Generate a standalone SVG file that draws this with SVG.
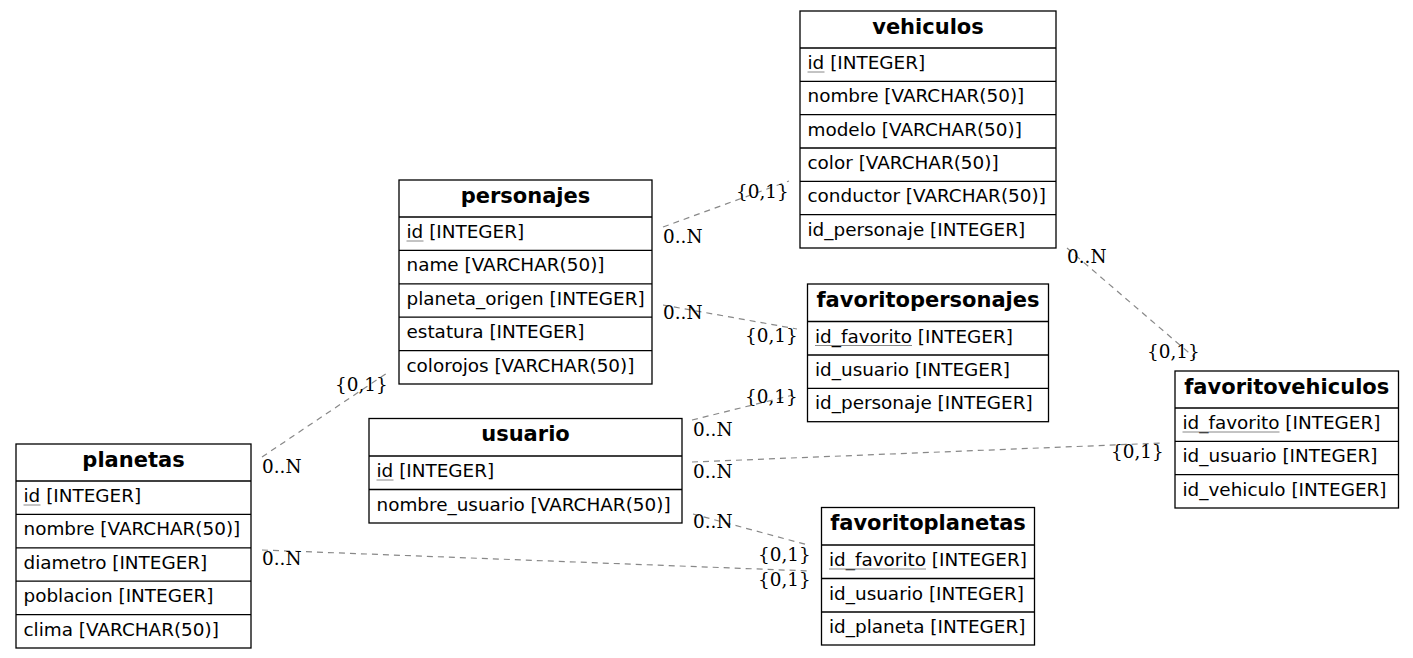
<svg xmlns="http://www.w3.org/2000/svg" width="1413" height="658" viewBox="0 0 1413 658">
<style>
.box{fill:#fff;stroke:#000;stroke-width:1.3}
.sep{stroke:#000;stroke-width:1.3}
.ttl{font-family:"DejaVu Sans",sans-serif;font-size:21px;font-weight:bold;fill:#000;text-anchor:middle}
.fld{font-family:"DejaVu Sans",sans-serif;font-size:18.4px;fill:#000}
.ul{stroke:#888;stroke-width:1}
.edge{fill:none;stroke:#888;stroke-width:1.2;stroke-dasharray:6,5}
.lbl{font-family:"DejaVu Serif",serif;font-size:18.4px;fill:#000}
</style>
<rect width="1413" height="658" fill="#fff"/>
<g id="connectors">
<line class="edge" x1="663" y1="227" x2="789" y2="181"/>
<line class="edge" x1="663" y1="305" x2="797" y2="329"/>
<line class="edge" x1="262" y1="457" x2="387" y2="373"/>
<line class="edge" x1="692" y1="420" x2="793" y2="395"/>
<line class="edge" x1="692" y1="462" x2="1163" y2="443"/>
<line class="edge" x1="693" y1="514" x2="808" y2="545"/>
<line class="edge" x1="262" y1="550" x2="810" y2="571"/>
<line class="edge" x1="1067" y1="248" x2="1195" y2="358"/>
<text class="lbl" x="663" y="243">0..N</text>
<text class="lbl" x="736" y="198">{0,1}</text>
<text class="lbl" x="663" y="319">0..N</text>
<text class="lbl" x="745" y="342">{0,1}</text>
<text class="lbl" x="335" y="391">{0,1}</text>
<text class="lbl" x="262" y="473">0..N</text>
<text class="lbl" x="693" y="436">0..N</text>
<text class="lbl" x="745" y="403">{0,1}</text>
<text class="lbl" x="693" y="478">0..N</text>
<text class="lbl" x="1111" y="458">{0,1}</text>
<text class="lbl" x="693" y="528">0..N</text>
<text class="lbl" x="758" y="561">{0,1}</text>
<text class="lbl" x="262" y="565">0..N</text>
<text class="lbl" x="758" y="586">{0,1}</text>
<text class="lbl" x="1067" y="263">0..N</text>
<text class="lbl" x="1147" y="358">{0,1}</text>
</g>
<g id="personajes">
<rect class="box" x="399" y="180" width="253" height="204"/>
<line class="sep" x1="399" y1="217" x2="652" y2="217"/>
<line class="sep" x1="399" y1="250.4" x2="652" y2="250.4"/>
<line class="sep" x1="399" y1="283.8" x2="652" y2="283.8"/>
<line class="sep" x1="399" y1="317.2" x2="652" y2="317.2"/>
<line class="sep" x1="399" y1="350.6" x2="652" y2="350.6"/>
<text class="ttl" x="525.5" y="202.5">personajes</text>
<text class="fld" x="406.5" y="238">id [INTEGER]</text>
<line class="ul" x1="406.5" y1="241" x2="423.5" y2="241"/>
<text class="fld" x="406.5" y="271.4">name [VARCHAR(50)]</text>
<text class="fld" x="406.5" y="304.8">planeta_origen [INTEGER]</text>
<text class="fld" x="406.5" y="338.2">estatura [INTEGER]</text>
<text class="fld" x="406.5" y="371.6">colorojos [VARCHAR(50)]</text>
</g>
<g id="vehiculos">
<rect class="box" x="800" y="11" width="256" height="237"/>
<line class="sep" x1="800" y1="48" x2="1056" y2="48"/>
<line class="sep" x1="800" y1="81.3" x2="1056" y2="81.3"/>
<line class="sep" x1="800" y1="114.7" x2="1056" y2="114.7"/>
<line class="sep" x1="800" y1="148" x2="1056" y2="148"/>
<line class="sep" x1="800" y1="181.3" x2="1056" y2="181.3"/>
<line class="sep" x1="800" y1="214.7" x2="1056" y2="214.7"/>
<text class="ttl" x="928" y="33.5">vehiculos</text>
<text class="fld" x="807.5" y="69">id [INTEGER]</text>
<line class="ul" x1="807.5" y1="72" x2="824.5" y2="72"/>
<text class="fld" x="807.5" y="102.3">nombre [VARCHAR(50)]</text>
<text class="fld" x="807.5" y="135.7">modelo [VARCHAR(50)]</text>
<text class="fld" x="807.5" y="169">color [VARCHAR(50)]</text>
<text class="fld" x="807.5" y="202.3">conductor [VARCHAR(50)]</text>
<text class="fld" x="807.5" y="235.7">id_personaje [INTEGER]</text>
</g>
<g id="planetas">
<rect class="box" x="16" y="444" width="235" height="204"/>
<line class="sep" x1="16" y1="481" x2="251" y2="481"/>
<line class="sep" x1="16" y1="514.4" x2="251" y2="514.4"/>
<line class="sep" x1="16" y1="547.8" x2="251" y2="547.8"/>
<line class="sep" x1="16" y1="581.2" x2="251" y2="581.2"/>
<line class="sep" x1="16" y1="614.6" x2="251" y2="614.6"/>
<text class="ttl" x="133.5" y="466.5">planetas</text>
<text class="fld" x="23.5" y="502">id [INTEGER]</text>
<line class="ul" x1="23.5" y1="505" x2="40.5" y2="505"/>
<text class="fld" x="23.5" y="535.4">nombre [VARCHAR(50)]</text>
<text class="fld" x="23.5" y="568.8">diametro [INTEGER]</text>
<text class="fld" x="23.5" y="602.2">poblacion [INTEGER]</text>
<text class="fld" x="23.5" y="635.6">clima [VARCHAR(50)]</text>
</g>
<g id="usuario">
<rect class="box" x="369" y="418.5" width="313" height="104.5"/>
<line class="sep" x1="369" y1="456" x2="682" y2="456"/>
<line class="sep" x1="369" y1="489.5" x2="682" y2="489.5"/>
<text class="ttl" x="525.5" y="441">usuario</text>
<text class="fld" x="376.5" y="477">id [INTEGER]</text>
<line class="ul" x1="376.5" y1="480" x2="393.5" y2="480"/>
<text class="fld" x="376.5" y="510.5">nombre_usuario [VARCHAR(50)]</text>
</g>
<g id="favoritopersonajes">
<rect class="box" x="807.5" y="284" width="241" height="137.7"/>
<line class="sep" x1="807.5" y1="321.5" x2="1048.5" y2="321.5"/>
<line class="sep" x1="807.5" y1="355" x2="1048.5" y2="355"/>
<line class="sep" x1="807.5" y1="388.3" x2="1048.5" y2="388.3"/>
<text class="ttl" x="928" y="306.5">favoritopersonajes</text>
<text class="fld" x="815" y="342.5">id_favorito [INTEGER]</text>
<line class="ul" x1="815" y1="345.5" x2="912" y2="345.5"/>
<text class="fld" x="815" y="376">id_usuario [INTEGER]</text>
<text class="fld" x="815" y="409.3">id_personaje [INTEGER]</text>
</g>
<g id="favoritovehiculos">
<rect class="box" x="1175" y="371" width="223.5" height="137"/>
<line class="sep" x1="1175" y1="408" x2="1398.5" y2="408"/>
<line class="sep" x1="1175" y1="441.3" x2="1398.5" y2="441.3"/>
<line class="sep" x1="1175" y1="474.7" x2="1398.5" y2="474.7"/>
<text class="ttl" x="1286.75" y="393.5">favoritovehiculos</text>
<text class="fld" x="1182.5" y="429">id_favorito [INTEGER]</text>
<line class="ul" x1="1182.5" y1="432" x2="1279.5" y2="432"/>
<text class="fld" x="1182.5" y="462.3">id_usuario [INTEGER]</text>
<text class="fld" x="1182.5" y="495.7">id_vehiculo [INTEGER]</text>
</g>
<g id="favoritoplanetas">
<rect class="box" x="821.5" y="507.5" width="213" height="137.5"/>
<line class="sep" x1="821.5" y1="545" x2="1034.5" y2="545"/>
<line class="sep" x1="821.5" y1="578.5" x2="1034.5" y2="578.5"/>
<line class="sep" x1="821.5" y1="612" x2="1034.5" y2="612"/>
<text class="ttl" x="928" y="530">favoritoplanetas</text>
<text class="fld" x="829" y="566">id_favorito [INTEGER]</text>
<line class="ul" x1="829" y1="569" x2="926" y2="569"/>
<text class="fld" x="829" y="599.5">id_usuario [INTEGER]</text>
<text class="fld" x="829" y="633">id_planeta [INTEGER]</text>
</g>
</svg>
